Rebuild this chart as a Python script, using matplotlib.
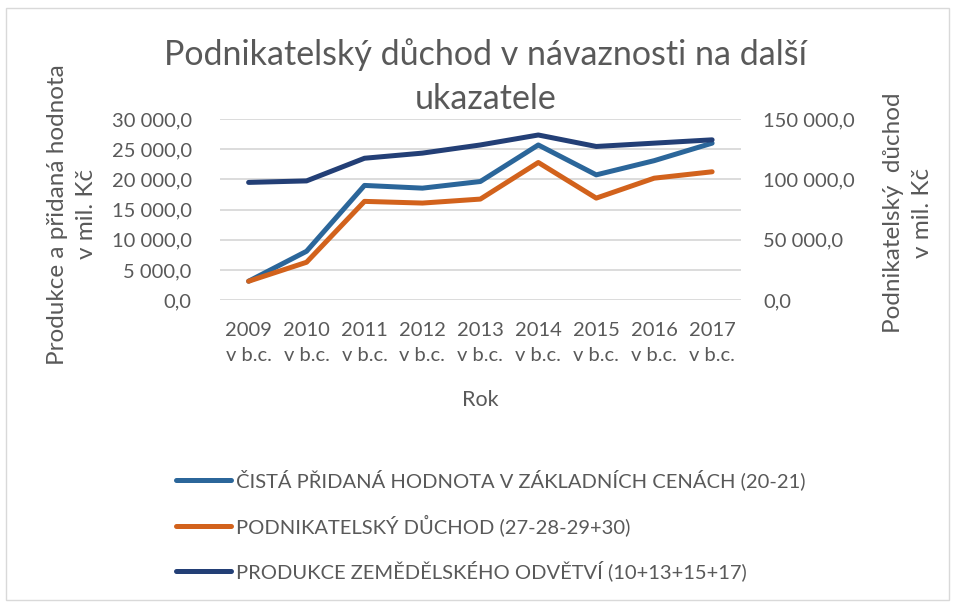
import matplotlib
matplotlib.use("Agg")
import matplotlib.pyplot as plt
from matplotlib.patches import Rectangle
from matplotlib.ticker import FuncFormatter, MultipleLocator

# data (mil. Kc)
years = ['2009', '2010', '2011', '2012', '2013', '2014', '2015', '2016', '2017']
cista_pridana = [3140, 8100, 19000, 18550, 19650, 25700, 20750, 23100, 26000]
produkce = [19500, 19750, 23500, 24350, 25700, 27350, 25450, 26000, 26550]
podnik_duchod = [15700, 31400, 81800, 80400, 83700, 114000, 84500, 101000, 106300]

labels = ['ČISTÁ PŘIDANÁ HODNOTA V ZÁKLADNÍCH CENÁCH (20-21)',
          'PODNIKATELSKÝ DŮCHOD (27-28-29+30)',
          'PRODUKCE ZEMĚDĚLSKÉHO ODVĚTVÍ (10+13+15+17)']

txt = '#595959'
c_blue = '#2B669A'
c_orange = '#D2621C'
c_navy = '#233F76'

plt.rcParams['font.family'] = ['Lato', 'DejaVu Sans']
plt.rcParams['text.color'] = txt

def cz_fmt(v, pos):
    s = '{:,.1f}'.format(v)
    return s.replace(',', ' ').replace('.', ',')

fig = plt.figure(figsize=(9.55, 6.04), dpi=100)
fig.patches.append(Rectangle((0.006, 0.006), 0.988, 0.98, transform=fig.transFigure,
                             fill=False, edgecolor='#D9D9D9', lw=1))

ax = fig.add_axes([0.230, 0.503, 0.546, 0.300])
ax2 = ax.twinx()

x = list(range(len(years)))
l1, = ax.plot(x, cista_pridana, color=c_blue, lw=3.6, solid_capstyle='round', zorder=3)
l3, = ax.plot(x, produkce, color=c_navy, lw=3.6, solid_capstyle='round', zorder=3)
l2, = ax2.plot(x, podnik_duchod, color=c_orange, lw=3.6, solid_capstyle='round', zorder=3)

ax.set_xlim(-0.5, len(years) - 0.5)
ax.set_ylim(0, 30000)
ax2.set_ylim(0, 150000)
ax.yaxis.set_major_locator(MultipleLocator(5000))
ax2.yaxis.set_major_locator(MultipleLocator(50000))
ax.yaxis.set_major_formatter(FuncFormatter(cz_fmt))
ax2.yaxis.set_major_formatter(FuncFormatter(cz_fmt))
ax.grid(axis='y', color='#D9D9D9', lw=1.3)
ax.set_axisbelow(True)

ax.set_xticks(x)
ax.set_xticklabels([y + '\nv b.c.' for y in years], linespacing=1.55)
for a in (ax, ax2):
    for s in a.spines.values():
        s.set_visible(False)
    a.tick_params(length=0, labelsize=14.5, colors=txt)
ax.tick_params(axis='y', pad=20)
ax.tick_params(axis='x', pad=16)
ax2.tick_params(axis='y', pad=16)

fig.text(0.508, 0.873, 'Podnikatelský důchod v návaznosti na další\nukazatele',
         ha='center', va='center', fontsize=24.5, linespacing=1.45)
fig.text(0.503, 0.337, 'Rok', ha='center', va='center', fontsize=15.5)
fig.text(0.0754, 0.645, 'Produkce a přidaná hodnota\nv mil. Kč', rotation=90,
         ha='center', va='center', fontsize=17.5, linespacing=1.45)
fig.text(0.951, 0.647, 'Podnikatelský  důchod\nv mil. Kč', rotation=90,
         ha='center', va='center', fontsize=17.5, linespacing=1.45)

leg = fig.legend([l1, l2, l3], labels, loc='upper left', bbox_to_anchor=(0.176, 0.236),
                 frameon=False, fontsize=14.5, handlelength=2.7, handletextpad=0.25,
                 labelspacing=1.2, borderaxespad=0)
for t in leg.get_texts():
    t.set_color(txt)

fig.savefig('out.png', dpi=100)
